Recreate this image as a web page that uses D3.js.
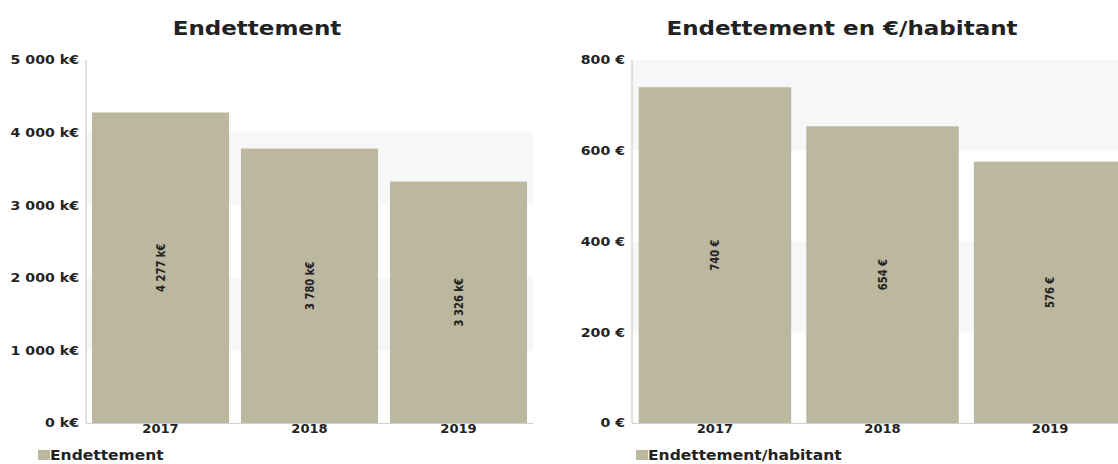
<!DOCTYPE html>
<html>
<head>
<meta charset="utf-8">
<script src="https://cdn.jsdelivr.net/npm/d3@7"></script>
<style>
	body { margin: 0; background: #fff; }
	svg text { font-family: "DejaVu Sans", Verdana, sans-serif; font-weight: bold; fill: #222; }
</style>
</head>
<body>
<svg width="1118" height="464"></svg>
<script>
// @ Data
const years = ["2017", "2018", "2019"];
const debtValues = [4277, 3780, 3326]; // k€
const debtPerHab = [740, 654, 576]; // €/habitant
const debtTicks = [0, 1000, 2000, 3000, 4000, 5000];
const habTicks = [0, 200, 400, 600, 800];

const barColor = "#bcb8a0";
const bandColor = "#f7f7f7";
const stretch = 1.15; // the picture looks a bit wide

const fmt = (v) => d3.format(",")(v).replace(/,/g, " ");

const svg = d3.select("svg");

const drawPanel = (opt) => {
	const g = svg.append("g");
	const x = d3
		.scaleBand()
		.domain(years)
		.range([opt.x0, opt.x1])
		.paddingInner(opt.padIn)
		.paddingOuter(opt.padOut);
	const y = d3
		.scaleLinear()
		.domain([0, d3.max(opt.ticks)])
		.range([423, 60]);

	// alternating background bands
	const bands = d3.pairs(opt.ticks).filter((d, i) => i % 2 === 1);
	g.selectAll("rect.band")
		.data(bands)
		.enter()
		.append("rect")
		.attr("class", "band")
		.attr("x", opt.x0)
		.attr("width", opt.x1 - opt.x0)
		.attr("y", (d) => y(d[1]))
		.attr("height", (d) => y(d[0]) - y(d[1]))
		.attr("fill", bandColor);

	// bars
	const data = years.map((yr, i) => ({ year: yr, value: opt.values[i] }));
	g.selectAll("rect.bar")
		.data(data)
		.enter()
		.append("rect")
		.attr("class", "bar")
		.attr("x", (d) => x(d.year))
		.attr("width", x.bandwidth())
		.attr("y", (d) => y(d.value))
		.attr("height", (d) => y(0) - y(d.value))
		.attr("fill", barColor);

	// value labels (rotated)
	g.selectAll("text.val")
		.data(data)
		.enter()
		.append("text")
		.attr("class", "val")
		.attr(
			"transform",
			(d) =>
				`translate(${x(d.year) + x.bandwidth() / 2},${(y(d.value) + y(0)) / 2})scale(${stretch},1)rotate(-90)`
		)
		.attr("text-anchor", "middle")
		.attr("dy", "0.35em")
		.style("font-size", "10px")
		.text((d) => fmt(d.value) + opt.unit);

	// axis lines
	g.append("line")
		.attr("x1", opt.x0)
		.attr("x2", opt.x0)
		.attr("y1", y.range()[1])
		.attr("y2", y(0))
		.attr("stroke", "#c4c4c4");
	g.append("line")
		.attr("x1", opt.x0)
		.attr("x2", opt.x1)
		.attr("y1", y(0) + 0.5)
		.attr("y2", y(0) + 0.5)
		.attr("stroke", "#d0d0d0");

	// y tick labels
	g.selectAll("text.ytick")
		.data(opt.ticks)
		.enter()
		.append("text")
		.attr("class", "ytick")
		.attr("transform", (d) => `translate(${opt.x0 - 7},${y(d)})scale(${stretch},1)`)
		.attr("text-anchor", "end")
		.attr("dy", "0.35em")
		.style("font-size", "12.3px")
		.text((d) => fmt(d) + opt.unit);

	// x tick labels
	g.selectAll("text.xtick")
		.data(years)
		.enter()
		.append("text")
		.attr("class", "xtick")
		.attr("transform", (d) => `translate(${x(d) + x.bandwidth() / 2},433)scale(${stretch},1)`)
		.attr("text-anchor", "middle")
		.style("font-size", "11.4px")
		.text((d) => d);

	// title
	g.append("text")
		.attr("transform", `translate(${opt.titleX},35)scale(${stretch},1)`)
		.attr("text-anchor", "middle")
		.style("font-size", "20px")
		.text(opt.title);

	// legend
	g.append("rect")
		.attr("x", opt.legendX)
		.attr("y", 450)
		.attr("width", 12)
		.attr("height", 10)
		.attr("fill", barColor);
	g.append("text")
		.attr("transform", `translate(${opt.legendX + 12},460)scale(${stretch},1)`)
		.style("font-size", "13.5px")
		.text(opt.legend);
};

drawPanel({
	values: debtValues,
	ticks: debtTicks,
	unit: " k€",
	x0: 86,
	x1: 533,
	padIn: 0.08,
	padOut: 0.04,
	title: "Endettement",
	titleX: 257,
	legend: "Endettement",
	legendX: 38,
});

drawPanel({
	values: debtPerHab,
	ticks: habTicks,
	unit: " €",
	x0: 632,
	x1: 1133,
	padIn: 0.09,
	padOut: 0.04,
	title: "Endettement en €/habitant",
	titleX: 842,
	legend: "Endettement/habitant",
	legendX: 636,
});
</script>
</body>
</html>
